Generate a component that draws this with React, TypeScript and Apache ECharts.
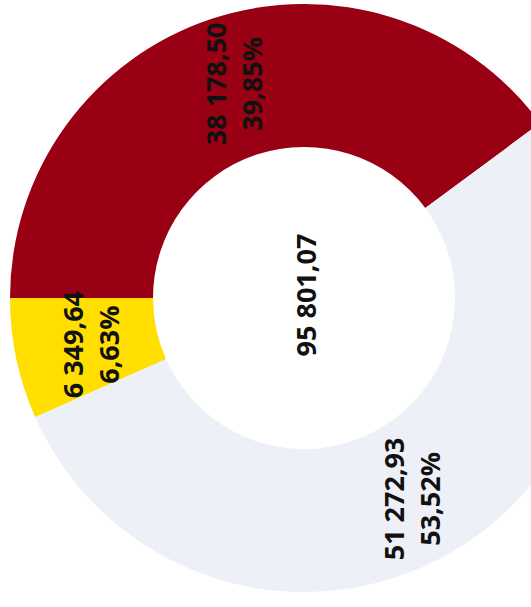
import React, { useEffect, useRef } from "react";
import * as echarts from "echarts";

const categories = ["A", "B", "C"];
const values = [38178.5, 51272.93, 6349.64];
const percents = ["39,85%", "53,52%", "6,63%"];
const valueLabels = ["38 178,50", "51 272,93", "6 349,64"];
const totalLabel = "95 801,07";
const colors = ["#9a0013", "#eef0f7", "#ffde00"];
const labelOffsets = [[0, 0], [-6, -6], [0, 7]];

export default function App() {
  const ref = useRef<HTMLDivElement>(null);
  useEffect(() => {
    document.body.style.margin = "0";
    const chart = echarts.init(ref.current!, undefined, { renderer: "svg" });
    const font = "'Open Sans', 'Noto Sans', sans-serif";
    chart.setOption({
      animation: false,
      backgroundColor: "#ffffff",
      series: [
        {
          type: "pie",
          center: [304, 298],
          radius: [151, 294],
          startAngle: 180,
          clockwise: true,
          avoidLabelOverlap: false,
          label: {
            show: true,
            position: "inside",
            rotate: 90,
            color: "#111111",
            fontFamily: font,
            fontWeight: "bold",
            fontSize: 27,
            lineHeight: 36,
            formatter: (p: any) => valueLabels[p.dataIndex] + "\n" + percents[p.dataIndex],
          },
          labelLine: { show: false },
          itemStyle: { borderWidth: 0 },
          emphasis: { disabled: true },
          data: categories.map((c, i) => ({
            name: c,
            value: values[i],
            itemStyle: { color: colors[i] },
            label: { offset: labelOffsets[i] },
          })),
        },
      ],
      graphic: [
        {
          type: "text",
          x: 305,
          y: 295,
          rotation: Math.PI / 2,
          style: {
            text: totalLabel,
            fill: "#111111",
            font: `bold 27px ${font}`,
            align: "center",
            verticalAlign: "middle",
          },
        },
      ],
    });
    return () => chart.dispose();
  }, []);
  return <div ref={ref} style={{ position: "absolute", left: 0, top: 0, width: 531, height: 607 }} />;
}
